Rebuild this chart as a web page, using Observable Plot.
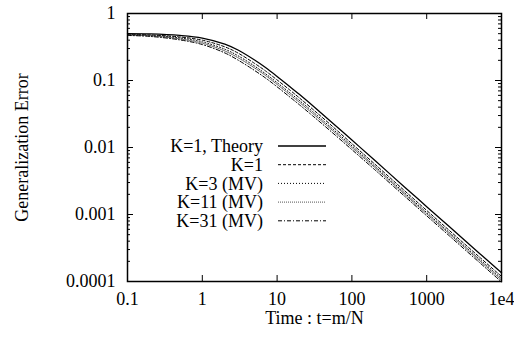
<!DOCTYPE html>
<html>
<head>
<meta charset="utf-8">
<script src="https://cdn.jsdelivr.net/npm/d3@7"></script>
<script src="https://cdn.jsdelivr.net/npm/@observablehq/plot@0.6"></script>
<style>
  html, body { margin: 0; padding: 0; background: #fff; }
  #chart svg { display: block; }
  #chart svg, #chart svg text { font-family: "Liberation Serif", "Times New Roman", Times, serif !important; }
</style>
</head>
<body>
<div id="chart"></div>
<script>
// ---- data ----
const times  = [0.1, 0.2, 0.5, 1, 2, 3, 5, 7, 10, 15, 20, 30, 50, 100, 200, 500, 1000, 2000, 5000, 10000];
const theory = [0.50, 0.495, 0.47, 0.43, 0.349, 0.285, 0.202, 0.156, 0.115, 0.080, 0.0617, 0.042, 0.0256, 0.0129, 0.0065, 0.0026, 0.00131, 0.00066, 0.000267, 0.000135];
const k1     = [0.485, 0.478, 0.447, 0.400, 0.318, 0.257, 0.180, 0.139, 0.102, 0.0712, 0.0546, 0.0372, 0.0227, 0.0114, 0.00572, 0.00229, 0.00115, 0.00058, 0.000235, 0.000119];
const k3     = [0.48, 0.470, 0.432, 0.378, 0.293, 0.234, 0.164, 0.126, 0.093, 0.0648, 0.050, 0.0342, 0.0209, 0.0106, 0.00533, 0.00213, 0.00107, 0.00054, 0.000219, 0.000111];
const k11    = [0.475, 0.465, 0.418, 0.361, 0.276, 0.219, 0.154, 0.119, 0.0874, 0.0608, 0.0469, 0.0321, 0.0197, 0.0100, 0.00507, 0.00203, 0.00102, 0.000515, 0.000208, 0.000105];
const k31    = [0.47, 0.455, 0.404, 0.344, 0.258, 0.202, 0.141, 0.109, 0.0805, 0.056, 0.0432, 0.0296, 0.0182, 0.00929, 0.00471, 0.0019, 0.000956, 0.000482, 0.000195, 0.0000986];

const seriesNames = ["K=1, Theory", "K=1", "K=3 (MV)", "K=11 (MV)", "K=31 (MV)"];
const seriesValues = [theory, k1, k3, k11, k31];

const xTicks = [0.1, 1, 10, 100, 1000, 10000];
const xTickLabels = ["0.1", "1", "10", "100", "1000", "1e4"];
const yTicks = [0.0001, 0.001, 0.01, 0.1, 1];
const yTickLabels = ["0.0001", "0.001", "0.01", "0.1", "1"];
const yMinorMultipliers = [2, 3, 4, 5, 6, 7, 8, 9];
const yMinor = [];
for (const d of [0.0001, 0.001, 0.01, 0.1]) for (const m of yMinorMultipliers) yMinor.push(+(d * m).toPrecision(3));

const xLabel = "Time : t=m/N";
const yLabel = "Generalization Error";

// ---- styles ----
const styles = [
  {stroke: "#000", strokeWidth: 1.3, dash: null},
  {stroke: "#000", strokeWidth: 1, dash: "3,2"},
  {stroke: "#000", strokeWidth: 1, dash: "1,2"},
  {stroke: "#555", strokeWidth: 1, dash: "1,1"},
  {stroke: "#000", strokeWidth: 1, dash: "4,2,1,2"}
];

const tables = seriesValues.map((vals, s) => times.map((t, i) => ({t, e: vals[i], s})));

const W = 514, H = 339;
const mL = 127, mR = 13, mT = 13, mB = 58;
const innerW = W - mL - mR, innerH = H - mT - mB;

const xFmt = new Map(xTicks.map((d, i) => [d, xTickLabels[i]]));
const yFmt = new Map(yTicks.map((d, i) => [d, yTickLabels[i]]));

function legendMark(index, scales, values, dims) {
  const g = d3.create("svg:g");
  const x0 = dims.marginLeft, y0 = dims.marginTop;
  seriesNames.forEach((name, i) => {
    const y = y0 + 133 + i * 18.7;
    g.append("text")
      .attr("x", x0 + 136).attr("y", y)
      .attr("dy", "0.35em")
      .attr("text-anchor", "end")
      .attr("fill", "#000")
      .text(name);
    g.append("line")
      .attr("x1", x0 + 151).attr("x2", x0 + 199)
      .attr("y1", y).attr("y2", y)
      .attr("stroke", styles[i].stroke)
      .attr("stroke-width", styles[i].strokeWidth)
      .attr("stroke-dasharray", styles[i].dash);
  });
  return g.node();
}

const marks = [
  ...tables.map((tb, s) => Plot.line(tb, {
    x: "t", y: "e",
    stroke: styles[s].stroke,
    strokeWidth: styles[s].strokeWidth,
    strokeDasharray: styles[s].dash,
    curve: "catmull-rom"
  })),
  Plot.tickX(xTicks, {x: d => d, insetTop: innerH - 6, stroke: "#000"}),
  Plot.tickX(xTicks, {x: d => d, insetBottom: innerH - 6, stroke: "#000"}),
  Plot.tickY(yTicks, {y: d => d, insetRight: innerW - 6, stroke: "#000"}),
  Plot.tickY(yTicks, {y: d => d, insetLeft: innerW - 6, stroke: "#000"}),
  Plot.tickY(yMinor, {y: d => d, insetRight: innerW - 3, stroke: "#000"}),
  Plot.tickY(yMinor, {y: d => d, insetLeft: innerW - 3, stroke: "#000"}),
  Plot.axisX({ticks: xTicks, tickSize: 0, tickPadding: 11, tickFormat: d => xFmt.get(d), label: null}),
  Plot.axisY({ticks: yTicks, tickSize: 0, tickPadding: 12, tickFormat: d => yFmt.get(d), label: null}),
  Plot.text([xLabel], {frameAnchor: "bottom", dy: 42, text: d => d, fill: "#000", textAnchor: "middle"}),
  Plot.text([yLabel], {frameAnchor: "left", dx: -105, rotate: -90, text: d => d, fill: "#000", textAnchor: "middle"}),
  Plot.frame({stroke: "#000", strokeWidth: 1.5}),
  legendMark
];

const chart = Plot.plot({
  width: W, height: H,
  marginLeft: mL, marginRight: mR, marginTop: mT, marginBottom: mB,
  style: {fontFamily: "Liberation Serif, serif", fontSize: "18px", color: "#000", background: "#fff"},
  x: {type: "log", domain: [0.1, 10000]},
  y: {type: "log", domain: [0.0001, 1]},
  marks
});
document.getElementById("chart").appendChild(chart);
</script>
</body>
</html>
